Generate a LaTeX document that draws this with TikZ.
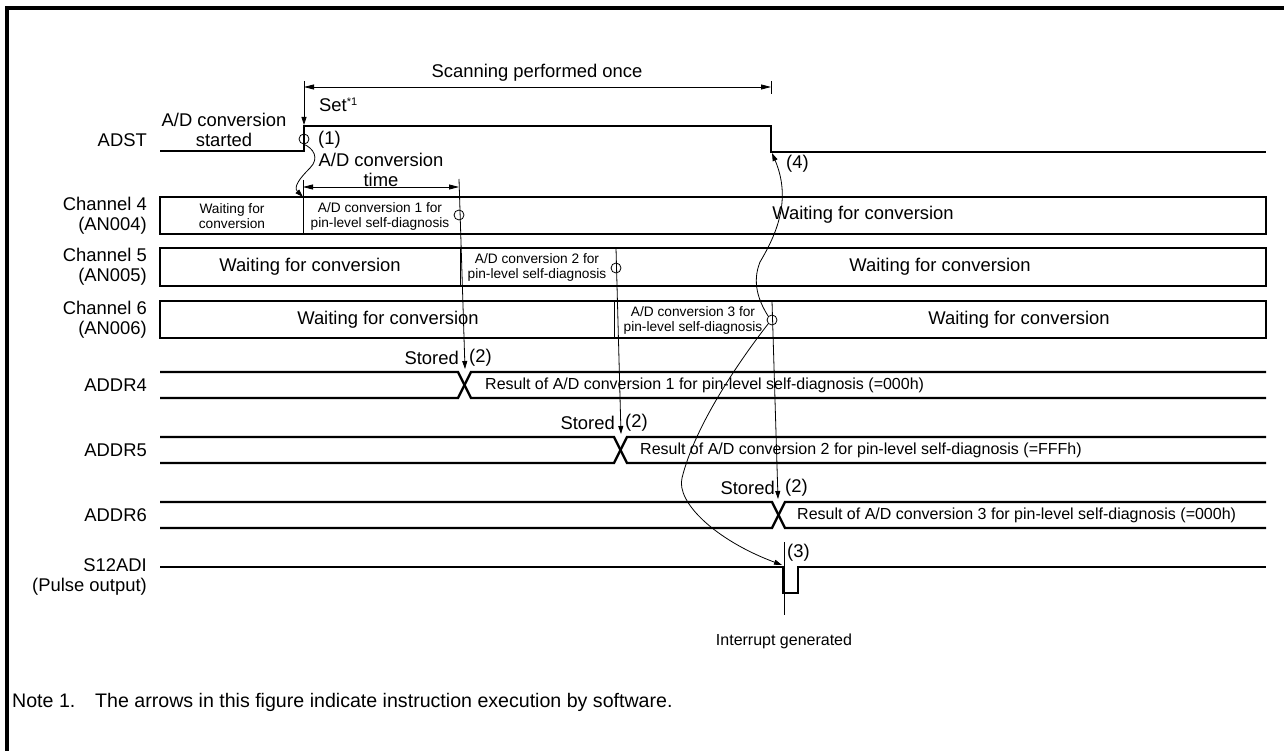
\documentclass[tikz,border=0pt]{standalone}
\usepackage{fontspec}
\setmainfont{Liberation Sans}
\usetikzlibrary{arrows.meta}
\begin{document}
\begin{tikzpicture}[x=1pt,y=-1pt,
  sig/.style={line width=2.4pt},
  thin/.style={line width=0.8pt},
  frame/.style={line width=3.2pt},
  tip/.style={-{Triangle[length=8pt,width=5pt]}},
  dim/.style={thin,{Triangle[length=10pt,width=5pt]}-{Triangle[length=10pt,width=5pt]}},
  big/.style={font=\fontsize{18.4}{20}\selectfont, inner sep=0pt},
  note/.style={font=\fontsize{19.6}{21}\selectfont, inner sep=0pt, anchor=base west},
  mid/.style={font=\fontsize{16}{18}\selectfont, inner sep=0pt},
  small/.style={font=\fontsize{13.7}{15}\selectfont, align=center, inner sep=0pt},
  lbl/.style={big, anchor=east, align=right},
  bigc/.style={big, align=center},
  circ/.style={circle, draw, thin, minimum size=10pt, inner sep=0pt},
]
\useasboundingbox (0,0) rectangle (1284,751);

% outer frame
\draw[frame] (7,751) -- (7,8) -- (1284,8);

% signal names
\node[lbl] (lADST) at (147,140) {ADST};
\node[lbl] (lch4) at (147,216) {Channel 4\\(AN004)};
\node[lbl] (lch5) at (147,267) {Channel 5\\(AN005)};
\node[lbl] (lch6) at (147,320) {Channel 6\\(AN006)};
\node[lbl] (lr4) at (147,385) {ADDR4};
\node[lbl] (lr5) at (147,450) {ADDR5};
\node[lbl] (lr6) at (147,515) {ADDR6};
\node[lbl] (lirq) at (147,577) {S12ADI\\(Pulse output)};

% scan span
\coordinate (sL) at (304,87);
\coordinate (sR) at (771,87);
\draw[thin] (304,81) -- (304,94) (771,81) -- (771,94);
\draw[dim] (sL) -- (sR);
\node[bigc] (scan) at (537,73) {Scanning performed once};

% ADST waveform
\draw[sig] (160,151) -- (304,151) -- (304,126) -- (771,126) -- (771,152) -- (1266,152);
\coordinate (setT) at (304,92);
\coordinate (setB) at (304,125);
\draw[thin,tip] (setT) -- (setB);
\node[big,anchor=west] (set) at (319,105) {Set\textsuperscript{\fontsize{11}{11}\selectfont *1}};
\node[bigc] (started) at (224,130) {A/D conversion\\started};
\node[circ] (c1) at (304,139) {};
\node[big,anchor=west] (n1) at (318,140) {(1)};
\coordinate (c4top) at (303,197);
\draw[thin,tip] (c1.south) .. controls (313,148) and (320,158) .. (310,168)
  .. controls (300,178) and (293,187) .. (c4top);

% conversion time
\node[bigc] (convt) at (381,170) {A/D conversion\\time};
\draw[thin] (303,180) -- (303,234);
\draw[dim] (303,187) -- (459,187);

% channel 4
\draw[sig] (160,197) rectangle (1266,234);
\node[small] (w4a) at (232,216) {Waiting for\\conversion};
\node[small] (cv1) at (380,216) {A/D conversion 1 for\\pin-level self-diagnosis};
\node[bigc] (w4b) at (863,215) {Waiting for conversion};
\node[circ] (c4) at (459,215) {};

% channel 5
\draw[sig] (160,248) rectangle (1266,286);
\draw[thin] (460,248) -- (460,286);
\node[bigc] (w5a) at (310,267) {Waiting for conversion};
\node[small] (cv2) at (537,267) {A/D conversion 2 for\\pin-level self-diagnosis};
\node[bigc] (w5b) at (940,267) {Waiting for conversion};
\node[circ] (c5) at (616,268) {};

% channel 6
\draw[sig] (160,301) rectangle (1266,338);
\draw[thin] (614,301) -- (614,338);
\node[bigc] (w6a) at (388,320) {Waiting for conversion};
\node[small] (cv3) at (693,320) {A/D conversion 3 for\\pin-level self-diagnosis};
\node[bigc] (w6b) at (1019,320) {Waiting for conversion};
\node[circ] (c6) at (772,320) {};

% result registers
\draw[sig] (160,372) -- (458,372) -- (471,398) -- (1266,398);
\draw[sig] (160,398) -- (458,398) -- (471,372) -- (1266,372);
\draw[sig] (160,437) -- (614,437) -- (627,463) -- (1266,463);
\draw[sig] (160,463) -- (614,463) -- (627,437) -- (1266,437);
\draw[sig] (160,502) -- (772,502) -- (785,528) -- (1266,528);
\draw[sig] (160,528) -- (772,528) -- (785,502) -- (1266,502);
\node[mid,anchor=west] (res1) at (485,385) {Result of A/D conversion 1 for pin-level self-diagnosis (=000h)};
\node[mid,anchor=west] (res2) at (640,450) {Result of A/D conversion 2 for pin-level self-diagnosis (=FFFh)};
\node[mid,anchor=west] (res3) at (797,515) {Result of A/D conversion 3 for pin-level self-diagnosis (=000h)};

% store arrows
\coordinate (e4) at (459,179);
\coordinate (x4) at (465,369);
\coordinate (e5) at (616,248);
\coordinate (x5) at (621,434);
\coordinate (e6) at (772,301);
\coordinate (x6) at (778,499);
\draw[thin,tip] (e4) -- (x4);
\draw[thin,tip] (e5) -- (x5);
\draw[thin,tip] (e6) -- (x6);
\node[big,anchor=east] (st4) at (459,358) {Stored};
\node[big,anchor=west] (p4) at (469,358) {(2)};
\node[big,anchor=east] (st5) at (615,423) {Stored};
\node[big,anchor=west] (p5) at (625,423) {(2)};
\node[big,anchor=east] (st6) at (775,488) {Stored};
\node[big,anchor=west] (p6) at (785,488) {(2)};

% interrupt pulse
\draw[sig] (160,567) -- (783,567) -- (783,593) -- (798,593) -- (798,567) -- (1266,567);
\draw[thin] (784,542) -- (784,615);
\node[big,anchor=west] (n3) at (787,553) {(3)};
\node[mid] (irq) at (784,641) {Interrupt generated};
\coordinate (pulse) at (782,565);
\draw[thin,tip] (c6.south west) .. controls (740,360) and (695,425) .. (682,478)
  .. controls (676,502) and (715,540) .. (pulse);

% ADST clear
\coordinate (clr) at (772,153);
\node[big,anchor=west] (n4) at (786,164) {(4)};
\draw[thin,tip] (c6.north west) .. controls (758,300) and (752,282) .. (760,262)
  .. controls (776,235) and (792,200) .. (clr);

% footnote
\node[note] (note) at (12,707) {Note 1.};
\node[note] (notet) at (95,707) {The arrows in this figure indicate instruction execution by software.};
\end{tikzpicture}
\end{document}
